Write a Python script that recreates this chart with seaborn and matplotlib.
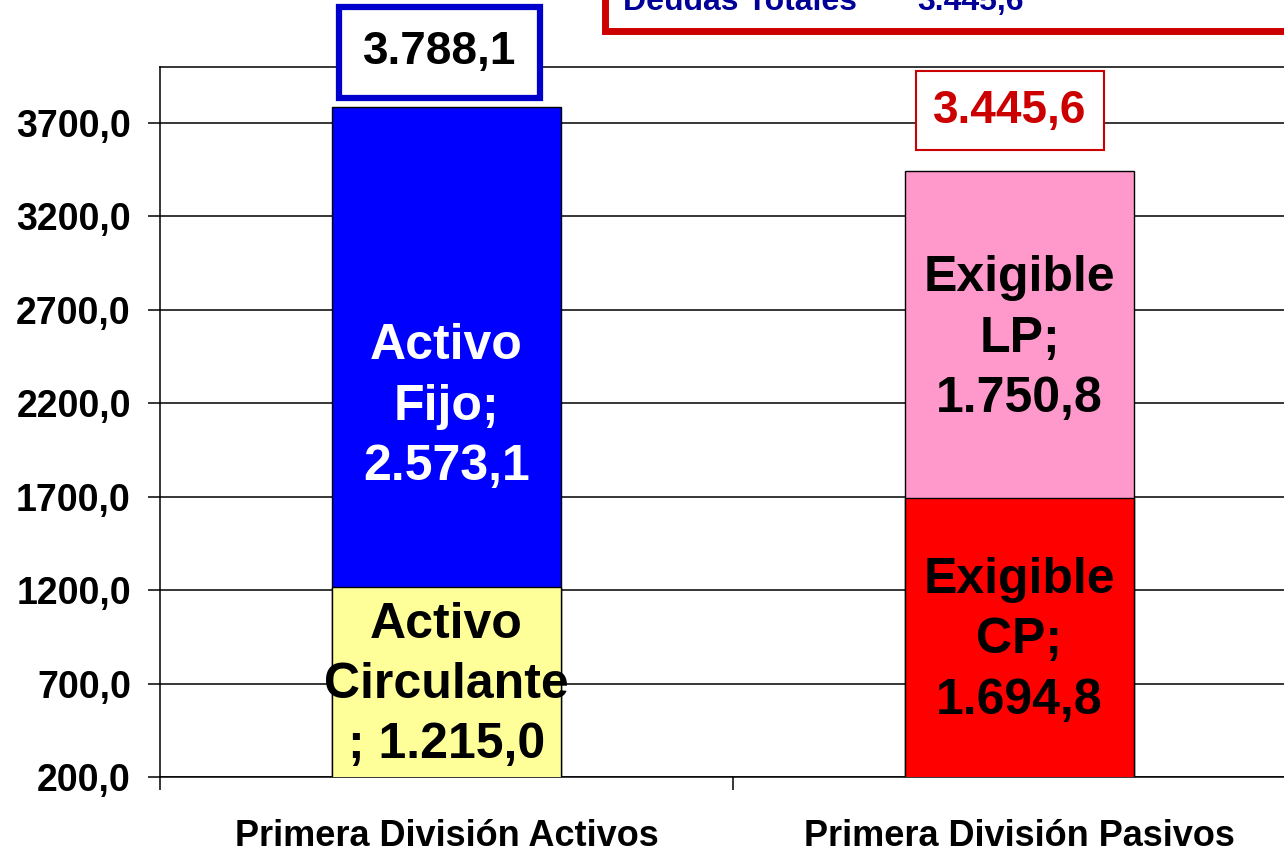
import numpy as np
import seaborn as sns
import matplotlib.pyplot as plt
from matplotlib.patches import Rectangle
from matplotlib.ticker import FuncFormatter

categorias = ["Primera División Activos", "Primera División Pasivos"]
inferior = [1215.0, 1694.8]          # Activo Circulante, Exigible CP
superior = [2573.1, 1750.8]          # Activo Fijo, Exigible LP
nombres_inf = ["Activo\nCirculante\n; 1.215,0", "Exigible\nCP;\n1.694,8"]
nombres_sup = ["Activo\nFijo;\n2.573,1", "Exigible\nLP;\n1.750,8"]
etiquetas_total = ["3.788,1", "3.445,6"]
deudas_totales = "3.445,6"

totales = [a + b for a, b in zip(inferior, superior)]

col_inf = ["#FFFF99", "#FF0000"]
col_sup = ["#0000FF", "#FF99CC"]

sns.set_style("white")
plt.rcParams["font.family"] = ["Liberation Sans", "DejaVu Sans"]
plt.rcParams["font.weight"] = "bold"

fig = plt.figure(figsize=(12.84, 8.47), dpi=100)
ax = fig.add_axes([160 / 1284, 70 / 847, 1146 / 1284, 710 / 847])

ymin, ymax = 200, 4000
ax.set_ylim(ymin, ymax)
ax.set_yticks(np.arange(200, 3701, 500))
ax.yaxis.grid(True, color="black", linewidth=1.1)
ax.set_axisbelow(True)

# stacked bars: total first, lower segment drawn over it
sns.barplot(x=categorias, y=totales, hue=categorias, palette=col_sup, width=0.4, saturation=1,
            edgecolor="black", linewidth=1, legend=False, ax=ax, zorder=2)
sns.barplot(x=categorias, y=inferior, hue=categorias, palette=col_inf, width=0.4, saturation=1,
            edgecolor="black", linewidth=1, legend=False, ax=ax, zorder=3)
ax.set_xlim(-0.5, 1.5)

# segment labels
fijo_ajuste = [-320, -25]  # labels of the top segments sit lower in the original
for i in range(2):
    y_inf = (max(ymin, 0) + inferior[i]) / 2 - 15
    y_sup = (inferior[i] + totales[i]) / 2 + fijo_ajuste[i]
    ax.text(i, y_inf, nombres_inf[i], ha="center", va="center", fontsize=36,
            fontweight="bold", color="black", linespacing=1.4, zorder=5)
    ax.text(i, y_sup, nombres_sup[i], ha="center", va="center", fontsize=36,
            fontweight="bold", color="white" if i == 0 else "black",
            linespacing=1.4, zorder=5)

# total labels
ax.annotate(etiquetas_total[0], (0, totales[0]), xytext=(-5, 39), textcoords="offset points",
            ha="center", va="center", fontsize=33, fontweight="bold", color="black",
            annotation_clip=False,
            bbox=dict(boxstyle="square,pad=0.52", fc="white", ec="#0000CC", lw=4.5))
ax.annotate(etiquetas_total[1], (1, totales[1]), xytext=(-7, 43), textcoords="offset points",
            ha="center", va="center", fontsize=33, fontweight="bold", color="#CC0000",
            annotation_clip=False,
            bbox=dict(boxstyle="square,pad=0.38", fc="white", ec="#CC0000", lw=1.5))

# axes styling
for s in ax.spines.values():
    s.set_visible(True)
    s.set_color("black")
    s.set_linewidth(1.1)
ax.yaxis.set_major_formatter(FuncFormatter(lambda v, p: f"{v:.1f}".replace(".", ",")))
ax.tick_params(axis="y", direction="out", length=9, width=1.1, pad=12, labelsize=27,
               left=True, color="black", labelcolor="black")
ax.set_xticks([-0.5, 0.5, 1.5], minor=True)
ax.tick_params(axis="x", which="minor", direction="out", length=9, width=1.1, bottom=True,
               color="black")
ax.tick_params(axis="x", which="major", length=0, pad=30, labelsize=26, labelcolor="black")
for t in ax.get_xticklabels() + ax.get_yticklabels():
    t.set_fontweight("bold")
ax.set_xlabel("")
ax.set_ylabel("")

# cut-off box at the top right
fig.patches.append(Rectangle((605 / 1284, (847 - 31) / 847), 0.6, 0.2, transform=fig.transFigure,
                             fc="white", ec="#CC0000", lw=5, zorder=10))
fig.text(623 / 1284, (847 - 10) / 847, "Deudas Totales", ha="left", va="baseline",
         fontsize=23, fontweight="bold", color="#000099", zorder=11)
fig.text(917 / 1284, (847 - 10) / 847, deudas_totales, ha="left", va="baseline",
         fontsize=23, fontweight="bold", color="#000099", zorder=11)

fig.savefig("out.png", dpi=100)
